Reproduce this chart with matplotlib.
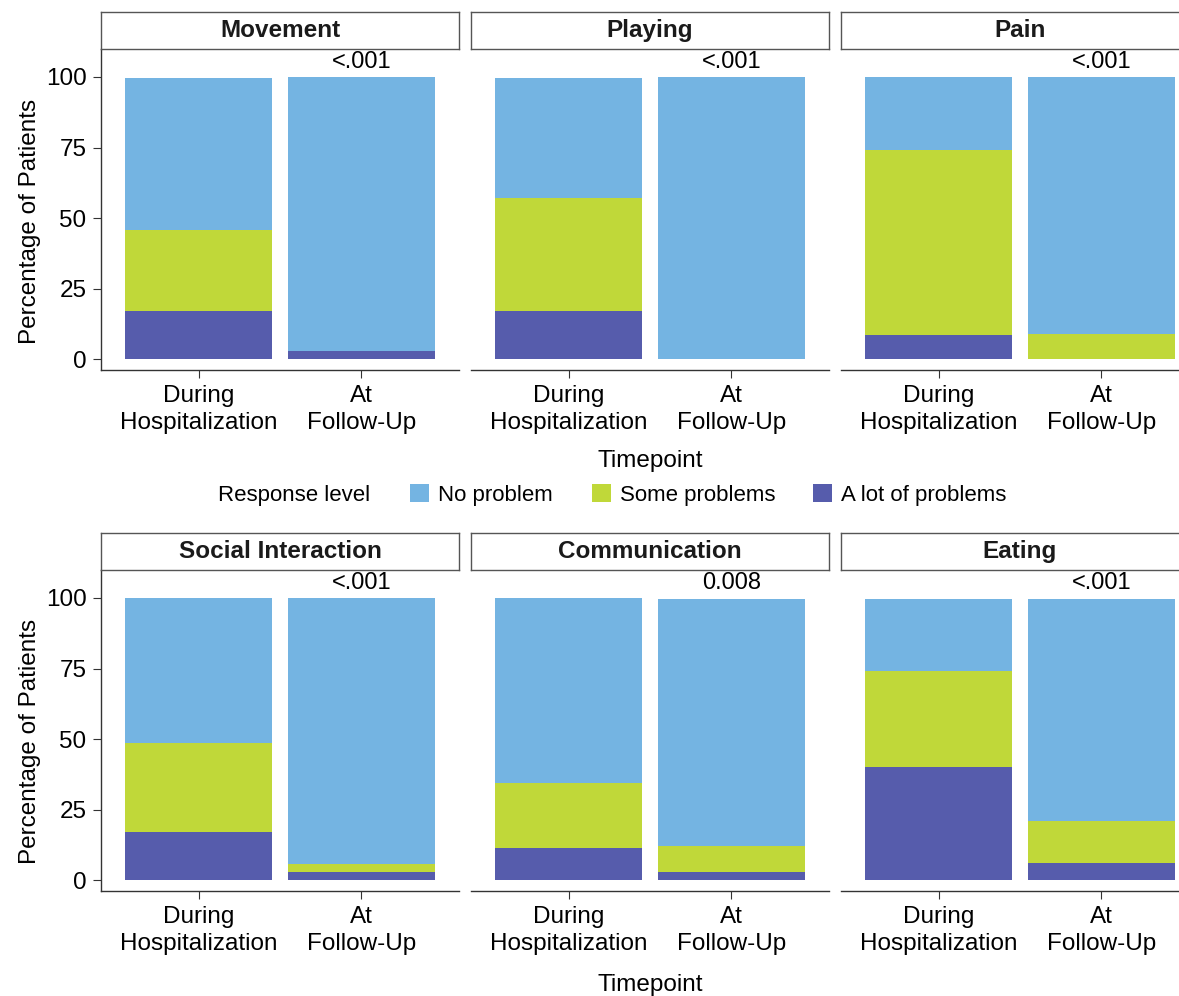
import matplotlib
matplotlib.use("Agg")
import matplotlib.pyplot as plt
from matplotlib.patches import Patch

plt.rcParams['font.family'] = ['Liberation Sans', 'DejaVu Sans']

domains = ["Movement", "Playing", "Pain", "Social Interaction", "Communication", "Eating"]
timepoints = ["During\nHospitalization", "At\nFollow-Up"]
levels = ["No problem", "Some problems", "A lot of problems"]
colors = {"No problem": "#74B4E2", "Some problems": "#C0D839", "A lot of problems": "#565CAC"}

# percentages per domain: [During, At]
a_lot = {
    "Movement": [17.1, 2.9],
    "Playing": [17.1, 0.0],
    "Pain": [8.6, 0.0],
    "Social Interaction": [17.1, 2.9],
    "Communication": [11.4, 2.9],
    "Eating": [40.0, 6.1],
}
some = {
    "Movement": [28.6, 0.0],
    "Playing": [40.0, 0.0],
    "Pain": [65.7, 8.9],
    "Social Interaction": [31.4, 2.9],
    "Communication": [22.9, 9.1],
    "Eating": [34.3, 15.0],
}
no_problem = {
    "Movement": [54.0, 97.1],
    "Playing": [42.6, 100.0],
    "Pain": [25.7, 91.1],
    "Social Interaction": [51.5, 94.2],
    "Communication": [65.7, 87.7],
    "Eating": [25.4, 78.6],
}
p_values = ["<.001", "<.001", "<.001", "<.001", "0.008", "<.001"]

W, H = 1179, 996
fig = plt.figure(figsize=(W / 100, H / 100), dpi=100)

def fx(px):
    return px / W

def fy(py):
    return 1 - py / H

lefts = [101, 471, 841]
pw = 358
rows = [(12, 49, 370), (533, 570, 891)]  # strip top, panel top, panel bottom
spine_col = "#333333"

for i, dom in enumerate(domains):
    r, c = divmod(i, 3)
    st, pt, pb = rows[r]
    x0 = lefts[c]
    ax = fig.add_axes([fx(x0), fy(pb), pw / W, (pb - pt) / H])
    xs = [1, 2]
    lot = a_lot[dom]
    sm = some[dom]
    nop = no_problem[dom]
    ax.bar(xs, lot, width=0.9, color=colors["A lot of problems"], linewidth=0)
    ax.bar(xs, sm, width=0.9, bottom=lot, color=colors["Some problems"], linewidth=0)
    ax.bar(xs, nop, width=0.9, bottom=[a + b for a, b in zip(lot, sm)],
           color=colors["No problem"], linewidth=0)
    ax.text(2, 105.3, p_values[i], ha="center", va="center", fontsize=17, color="black")
    ax.set_xlim(0.4, 2.6)
    ax.set_ylim(-3.8, 109.9)
    ax.set_xticks(xs)
    ax.set_xticklabels(timepoints, fontsize=17.5, linespacing=1.3)
    for s in ["top", "right"]:
        ax.spines[s].set_visible(False)
    ax.spines["bottom"].set_color(spine_col)
    ax.spines["bottom"].set_linewidth(1.0)
    if c == 0:
        ax.set_yticks([0, 25, 50, 75, 100])
        ax.set_yticklabels(["0", "25", "50", "75", "100"], fontsize=17.5)
        ax.spines["left"].set_color(spine_col)
        ax.spines["left"].set_linewidth(1.0)
        ax.tick_params(axis="y", length=5.5, width=0.8, color=spine_col, pad=5)
    else:
        ax.spines["left"].set_visible(False)
        ax.set_yticks([])
    ax.tick_params(axis="x", length=5.5, width=0.8, color=spine_col, pad=5)
    # strip
    sax = fig.add_axes([fx(x0), fy(pt), pw / W, (pt - st) / H])
    sax.set_xticks([])
    sax.set_yticks([])
    for s in sax.spines.values():
        s.set_color("#555555")
        s.set_linewidth(1.0)
    sax.text(0.5, 0.5, dom, ha="center", va="center", fontsize=17.5, fontweight="bold",
             color="#1a1a1a", transform=sax.transAxes)

# axis titles
for yc in [221, 741]:
    fig.text(fx(30), fy(yc), "Percentage of Patients", rotation=90, ha="center", va="center", fontsize=17.5)
for yc in [461, 985]:
    fig.text(fx(650), fy(yc), "Timepoint", ha="center", va="center", fontsize=17.5)

# legend
fig.text(fx(218), fy(495), "Response level", ha="left", va="center", fontsize=16)
key_x = [410, 592, 813]
for lvl, kx in zip(levels, key_x):
    h = Patch(facecolor=colors[lvl], edgecolor="none", label=lvl)
    fig.legend(handles=[h], loc="center left", bbox_to_anchor=(fx(kx), fy(495)),
               frameon=False, fontsize=16, handlelength=0.85, handleheight=0.85,
               handletextpad=0.4, borderpad=0, borderaxespad=0)

fig.savefig("out.png", dpi=100)
